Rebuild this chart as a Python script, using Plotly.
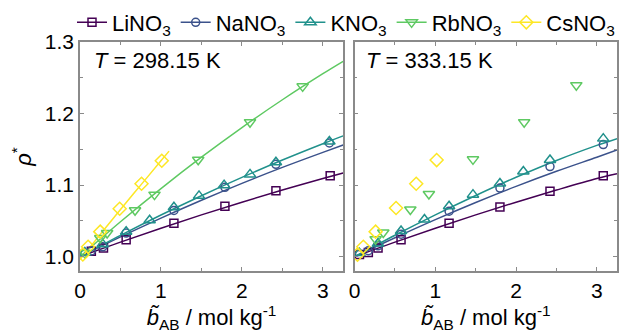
import plotly.graph_objects as go

# ---------------- data ----------------
names = ["LiNO<sub>3</sub>", "NaNO<sub>3</sub>", "KNO<sub>3</sub>", "RbNO<sub>3</sub>", "CsNO<sub>3</sub>"]

# T = 298.15 K : measured points
b_li_298 = [0.14, 0.29, 0.57, 1.16, 1.79, 2.42, 3.09]
r_li_298 = [1.0075, 1.012, 1.0235, 1.0466, 1.0705, 1.0922, 1.113]
b_na_298 = [0.14, 0.28, 0.57, 1.16, 1.79, 2.42, 3.08]
r_na_298 = [1.008, 1.0138, 1.033, 1.0646, 1.097, 1.129, 1.159]
b_k_298 = [0.06, 0.28, 0.57, 0.86, 1.16, 1.47, 1.78, 2.10, 2.42, 3.08]
r_k_298 = [1.006, 1.0175, 1.035, 1.051, 1.069, 1.085, 1.100, 1.115, 1.132, 1.161]
b_rb_298 = [0.06, 0.25, 0.335, 0.68, 0.92, 1.46, 2.10, 2.75]
r_rb_298 = [1.005, 1.026, 1.033, 1.065, 1.0867, 1.1355, 1.188, 1.238]
b_cs_298 = [0.035, 0.10, 0.25, 0.49, 0.76, 1.01]
r_cs_298 = [1.003, 1.0138, 1.035, 1.067, 1.102, 1.134]

# T = 298.15 K : fitted curves
fit_b = [0, 0.5, 1.0, 1.5, 2.0, 2.5, 3.0, 3.25]
fit_li_298 = [1.0, 1.0203, 1.0398, 1.0584, 1.0762, 1.0931, 1.1092, 1.117]
fit_na_298 = [1.0, 1.0276, 1.0539, 1.0788, 1.1025, 1.1248, 1.1458, 1.156]
fit_k_298 = [1.0, 1.0298, 1.0582, 1.0852, 1.1108, 1.1351, 1.1579, 1.1688]
fit_rb_298 = [1.0, 1.0488, 1.0951, 1.139, 1.1804, 1.2193, 1.2557, 1.273]
fit_b_cs = [0, 0.25, 0.5, 0.75, 1.0, 1.1]
fit_cs_298 = [0.996, 1.031, 1.066, 1.1, 1.134, 1.1475]

# T = 333.15 K : measured points
b_li_333 = [0.06, 0.17, 0.29, 0.575, 1.17, 1.80, 2.42, 3.08]
r_li_333 = [1.003, 1.006, 1.012, 1.0235, 1.0466, 1.0696, 1.0913, 1.113]
b_na_333 = [0.17, 0.29, 0.575, 1.17, 1.80, 2.42, 3.08]
r_na_333 = [1.0083, 1.0152, 1.0314, 1.0636, 1.0959, 1.1259, 1.1567]
b_k_333 = [0.06, 0.29, 0.575, 0.865, 1.17, 1.466, 1.80, 2.09, 2.42, 3.08]
r_k_333 = [1.005, 1.0184, 1.036, 1.052, 1.0705, 1.0867, 1.1023, 1.119, 1.135, 1.165]
b_rb_333 = [0.26, 0.355, 0.69, 0.92, 1.466, 2.10, 2.746]
r_rb_333 = [1.0245, 1.0337, 1.066, 1.0876, 1.136, 1.188, 1.2397]
b_cs_333 = [0.035, 0.108, 0.26, 0.513, 0.763, 1.016]
r_cs_333 = [1.0028, 1.0138, 1.035, 1.068, 1.102, 1.135]

# T = 333.15 K : fitted curves
fit_li_333 = [1.0, 1.0203, 1.0398, 1.0584, 1.0762, 1.0931, 1.1092, 1.116]
fit_na_333 = [1.0, 1.0265, 1.0518, 1.0757, 1.0982, 1.1193, 1.139, 1.149]
fit_k_333 = [1.0, 1.0300, 1.0585, 1.0855, 1.111, 1.1345, 1.1555, 1.165]

# ---------------- style ----------------
colors = ["#440154", "#3b528b", "#21918c", "#5ec962", "#fde725"]
symbols = ["square-open", "circle-open", "triangle-up-open", "triangle-down-open", "diamond-open"]
msizes = [8, 8, 10, 10, 10]
FONT = "Arial, 'Liberation Sans', sans-serif"
GRAY = "#8a8a8a"

fig = go.Figure()

pts298 = [(b_li_298, r_li_298), (b_na_298, r_na_298), (b_k_298, r_k_298),
          (b_rb_298, r_rb_298), (b_cs_298, r_cs_298)]
fits298 = [(fit_b, fit_li_298), (fit_b, fit_na_298), (fit_b, fit_k_298),
           (fit_b, fit_rb_298), (fit_b_cs, fit_cs_298)]
pts333 = [(b_li_333, r_li_333), (b_na_333, r_na_333), (b_k_333, r_k_333),
          (b_rb_333, r_rb_333), (b_cs_333, r_cs_333)]
fits333 = [(fit_b, fit_li_333), (fit_b, fit_na_333), (fit_b, fit_k_333)]

for i in range(5):
    # legend entry
    fig.add_trace(go.Scatter(x=[None], y=[None], mode="lines+markers", name=names[i],
                             line=dict(color=colors[i], width=1.5),
                             marker=dict(symbol=symbols[i], size=msizes[i], color=colors[i],
                                         line=dict(width=1.5, color=colors[i])),
                             legendgroup=str(i), showlegend=True, xaxis="x", yaxis="y"))

for i, (fx, fy) in enumerate(fits298):
    fig.add_trace(go.Scatter(x=fx, y=fy, mode="lines", line=dict(color=colors[i], width=1.5, shape="spline"),
                             showlegend=False, legendgroup=str(i), xaxis="x", yaxis="y"))
for i, (fx, fy) in enumerate(fits333):
    fig.add_trace(go.Scatter(x=fx, y=fy, mode="lines", line=dict(color=colors[i], width=1.5, shape="spline"),
                             showlegend=False, legendgroup=str(i), xaxis="x2", yaxis="y2"))

for i, (px, py) in enumerate(pts298):
    fig.add_trace(go.Scatter(x=px, y=py, mode="markers",
                             marker=dict(symbol=symbols[i], size=msizes[i], color=colors[i],
                                         line=dict(width=1.5, color=colors[i])),
                             showlegend=False, legendgroup=str(i), xaxis="x", yaxis="y"))
for i, (px, py) in enumerate(pts333):
    fig.add_trace(go.Scatter(x=px, y=py, mode="markers",
                             marker=dict(symbol=symbols[i], size=msizes[i], color=colors[i],
                                         line=dict(width=1.5, color=colors[i])),
                             showlegend=False, legendgroup=str(i), xaxis="x2", yaxis="y2"))

xtitle = "<i>b\u0303</i><sub>AB</sub> / mol kg<sup>-1</sup>"
common_x = dict(range=[0, 3.25], tickvals=[0, 1, 2, 3], ticks="inside", ticklen=4, tickcolor=GRAY,
                showline=True, linecolor=GRAY, linewidth=1.5, mirror="allticks", showgrid=False,
                zeroline=False, tickfont=dict(size=21, color="black"),
                minor=dict(dtick=0.5, ticks="inside", ticklen=3, tickcolor=GRAY),
                title=dict(text=xtitle, font=dict(size=22, color="black"), standoff=4))
common_y = dict(range=[0.98, 1.30], tickvals=[1.0, 1.1, 1.2, 1.3], ticks="inside", ticklen=4, tickcolor=GRAY,
                showline=True, linecolor=GRAY, linewidth=1.5, mirror="allticks", showgrid=False,
                zeroline=False, tickfont=dict(size=21, color="black"), tickformat=".1f",
                minor=dict(dtick=0.05, ticks="inside", ticklen=3, tickcolor=GRAY))

fig.update_layout(
    width=620, height=335,
    margin=dict(l=80, r=1, t=39, b=64),
    plot_bgcolor="white", paper_bgcolor="white",
    font=dict(family=FONT, size=21, color="black"),
    xaxis=dict(domain=[0, 0.490], anchor="y", **common_x),
    xaxis2=dict(domain=[0.5114, 1], anchor="y2", **common_x),
    yaxis=dict(domain=[0, 1], anchor="x",
               title=dict(text="<i>\u03c1</i><sup>*</sup>", font=dict(size=22, color="black"), standoff=7),
               **common_y),
    yaxis2=dict(domain=[0, 1], anchor="x2", showticklabels=False, **common_y),
    legend=dict(orientation="h", x=-0.005, xanchor="left", y=1.085, yanchor="middle",
                font=dict(size=22, color="black"), bgcolor="rgba(0,0,0,0)",
                itemwidth=30, tracegroupgap=0, traceorder="normal"),
    annotations=[
        dict(text="<i>T</i> = 298.15 K", xref="x domain", yref="y domain", x=0.045, y=0.918,
             xanchor="left", yanchor="middle", showarrow=False, font=dict(size=22, color="black")),
        dict(text="<i>T</i> = 333.15 K", xref="x2 domain", yref="y2 domain", x=0.035, y=0.918,
             xanchor="left", yanchor="middle", showarrow=False, font=dict(size=22, color="black")),
    ],
)

fig.write_html("out.html")
